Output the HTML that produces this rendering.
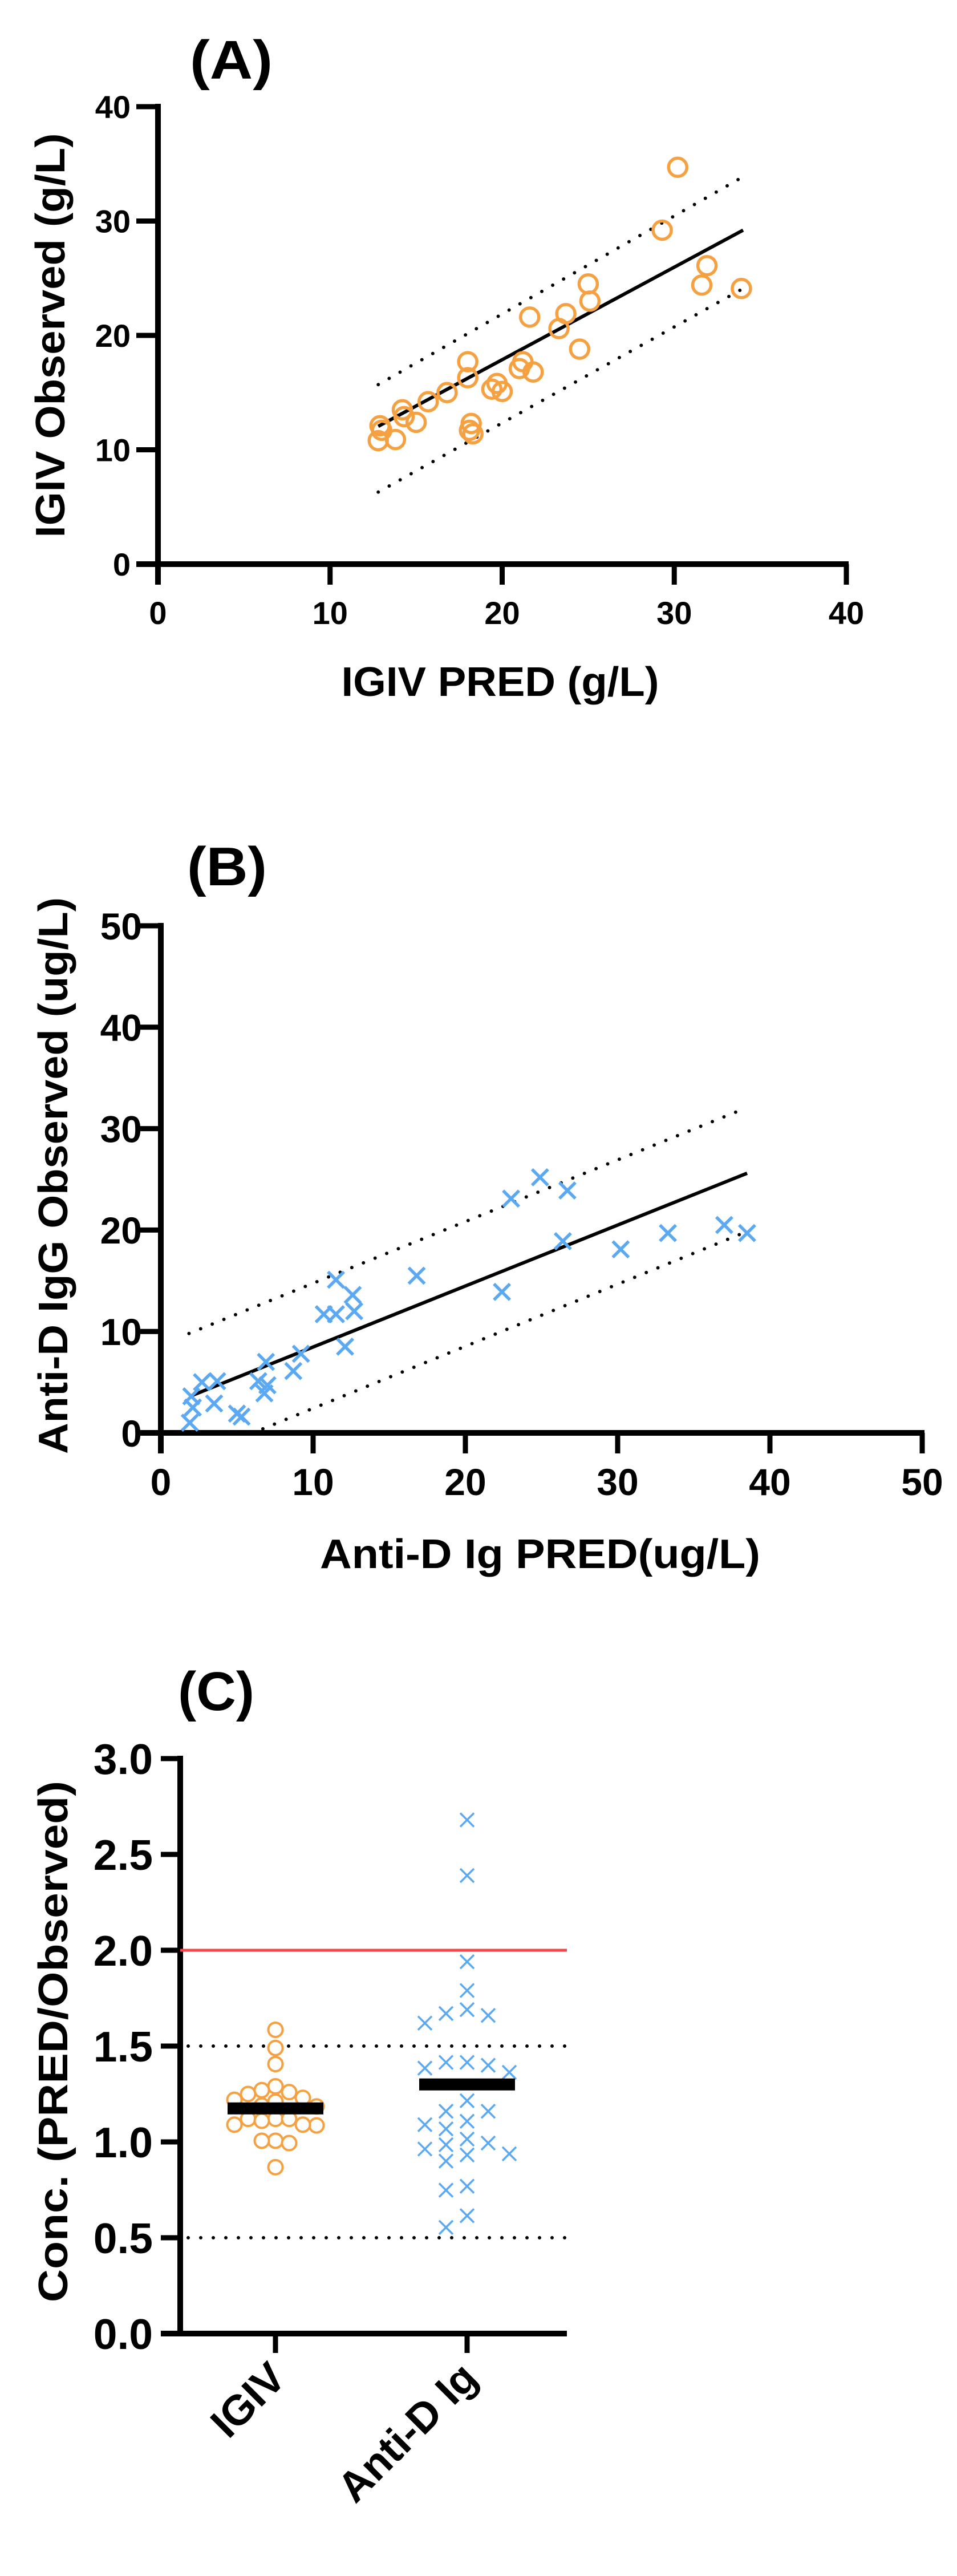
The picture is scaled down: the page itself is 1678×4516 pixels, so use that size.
<!DOCTYPE html>
<html><head><meta charset="utf-8"><style>
html,body{margin:0;padding:0;background:#fff;}
svg{display:block;font-family:"Liberation Sans",Arial,sans-serif;font-weight:bold;}
</style></head><body>
<svg id="fig" width="1678" height="4516" viewBox="0 0 1678 4516" xmlns="http://www.w3.org/2000/svg"></svg>
<script>
// ---- Panel A data ----
const aPredX = [30.2,29.3,31.9,31.6,33.9,25.0,25.1,23.7,23.3,24.5,21.6,21.8,21.2,21.0,18.0,18.0,19.4,19.7,20.0,16.8,15.7,15.0,14.2,14.3,13.8,12.9,12.8,13.0,18.2,18.3,18.1];
const aObsY  = [34.7,29.2,26.1,24.4,24.1,24.5,23.0,21.9,20.6,18.8,21.6,16.8,17.7,17.1,17.7,16.3,15.3,15.8,15.1,15.0,14.2,12.4,13.5,12.9,10.9,12.1,10.8,11.7,12.3,11.4,11.7];
const aFitX = [12.8,34.0], aFitY = [12.05,29.2];
const aUpX = [12.8,33.8], aUpY = [15.7,33.7];
const aLoX = [12.8,34.0], aLoY = [6.3,24.1];
const aTicks = [0,10,20,30,40];
// ---- Panel B data ----
const bPredX = [24.9,23.0,26.7,26.4,37.0,38.5,33.3,30.2,16.8,22.4,11.5,12.6,10.7,11.5,12.7,12.1,9.2,8.7,6.9,6.4,7.0,6.8,3.7,2.7,3.5,2.0,2.1,1.9,5.0,5.3];
const bObsY  = [25.2,23.1,23.9,18.9,20.5,19.7,19.7,18.1,15.5,13.9,15.1,13.6,11.7,11.7,12.0,8.5,7.8,6.1,7.0,5.1,4.7,3.9,5.1,5.0,2.9,3.6,2.5,1.0,1.9,1.6];
const bFitX = [1.9,38.5], bFitY = [3.6,25.6];
const bUpX = [1.85,38.2], bUpY = [9.8,31.9];
const bLoX = [6.7,38.4], bLoY = [0.4,19.8];
const bTicks = [0,10,20,30,40,50];
// ---- Panel C data ----
const cCategories = ["IGIV","Anti-D Ig"];
const cIgiv = [1.585,1.49,1.406,1.29,1.27,1.26,1.25,1.23,1.22,1.21,1.19,1.185,1.086,1.12,1.09,1.12,1.09,1.12,1.11,1.006,0.994,1.006,0.868];
const cAntiD = [2.68,2.39,1.94,1.79,1.69,1.67,1.66,1.62,1.40,1.415,1.415,1.363,1.385,1.215,1.16,1.16,1.09,1.108,1.068,1.015,0.985,0.994,0.938,0.963,0.932,0.90,0.748,0.769,0.615,0.554];
const cMedians = [1.175,1.30];
const cRefRed = [2.0];
const cRefDotted = [1.5,0.5];
const cTicks = [0,0.5,1.0,1.5,2.0,2.5,3.0];
const cTickLabels = ["0.0","0.5","1.0","1.5","2.0","2.5","3.0"];

const NS="http://www.w3.org/2000/svg";
const svg=document.getElementById('fig');
const ORANGE="#f6a141", BLUE="#5aa9f2";
function mk(tag,attrs,parent){const e=document.createElementNS(NS,tag);for(const k in attrs)e.setAttribute(k,attrs[k]);(parent||svg).appendChild(e);return e;}
function txt(s,attrs,parent){const e=mk('text',attrs,parent);e.textContent=s;return e;}

function scatterPanel(cfg){
  const g=mk('g',{});
  
  
  const sx=v=>cfg.x0+(v-0)*(cfg.x1-cfg.x0)/cfg.max;
  const sy=v=>cfg.y0-(v-0)*(cfg.y0-cfg.y1)/cfg.max;
  // title
  const t=txt(cfg.label,{x:cfg.lx,y:cfg.ly,'font-size':cfg.lsize,textLength:cfg.lw,lengthAdjust:'spacingAndGlyphs'},g);
  
  
  // axes
  const ax=mk('path',{d:`M${cfg.x0-38},${cfg.y0} H${cfg.x1+4} M${cfg.x0},${cfg.y1-5} V${cfg.y0+36}`,stroke:'#000','stroke-width':10,fill:'none'},g);
  
  
  cfg.ticks.forEach(v=>{
    const tk=mk('path',{d:`M${sx(v)},${cfg.y0} V${cfg.y0+36} M${cfg.x0-38},${sy(v)} H${cfg.x0}`,stroke:'#000','stroke-width':9},g);
    
    
    const xl=txt(String(v),{x:sx(v),y:cfg.xlBase,'font-size':cfg.tsize,'text-anchor':'middle'},g);
    
    
    const yl=txt(String(v),{x:cfg.ylRight,y:sy(v)+cfg.tsize*0.36,'font-size':cfg.tsize,'text-anchor':'end'},g);
    
    
  });
  const xt=txt(cfg.xTitle,{x:cfg.xtx,y:cfg.xty,'font-size':cfg.titleSize,'text-anchor':'middle',textLength:cfg.xtw,lengthAdjust:'spacingAndGlyphs'},g);
  
  
  const yt=txt(cfg.yTitle,{x:0,y:0,'font-size':cfg.titleSize,'text-anchor':'middle',textLength:cfg.ytw,lengthAdjust:'spacingAndGlyphs',transform:`translate(${cfg.ytx},${cfg.yty}) rotate(-90)`},g);
  
  
  // lines
  const fl=mk('line',{x1:sx(cfg.fitX[0]),y1:sy(cfg.fitY[0]),x2:sx(cfg.fitX[1]),y2:sy(cfg.fitY[1]),stroke:'#000','stroke-width':6},g);
  
  
  [[cfg.upX,cfg.upY,'upper-bound-line'],[cfg.loX,cfg.loY,'lower-bound-line']].forEach(([X,Y,n])=>{
    const l=mk('line',{x1:sx(X[0]),y1:sy(Y[0]),x2:sx(X[1]),y2:sy(Y[1]),stroke:'#000','stroke-width':6,'stroke-dasharray':'0 22','stroke-linecap':'round'},g);
    
    
  });
  // points
  cfg.px.forEach((v,i)=>{
    const cx=sx(v), cy=sy(cfg.py[i]);
    let p;
    if(cfg.marker==='circle'){
      p=mk('circle',{cx:cx,cy:cy,r:16,fill:'none',stroke:ORANGE,'stroke-width':5.5},g);
    } else {
      const s=14;
      p=mk('path',{d:`M${cx-s},${cy-s} L${cx+s},${cy+s} M${cx-s},${cy+s} L${cx+s},${cy-s}`,stroke:BLUE,'stroke-width':5.5,fill:'none'},g);
    }
    
    
  });
}

scatterPanel({name:'panel-a',label:'(A)',lx:333,ly:138,lsize:96,lw:145,
  x0:277,x1:1484,y0:989,y1:187,max:40,ticks:aTicks,tsize:56,xlBase:1094,ylRight:229,
  xTitle:'IGIV PRED (g/L)',xtx:877,xty:1220,xtw:557,yTitle:'IGIV Observed (g/L)',ytx:113,yty:588,ytw:709,titleSize:72,
  fitX:aFitX,fitY:aFitY,upX:aUpX,upY:aUpY,loX:aLoX,loY:aLoY,px:aPredX,py:aObsY,marker:'circle'});

scatterPanel({name:'panel-b',label:'(B)',lx:328,ly:1552,lsize:96,lw:140,
  x0:282,x1:1617,y0:2512,y1:1623,max:50,ticks:bTicks,tsize:66,xlBase:2621,ylRight:249,
  xTitle:'Anti-D  Ig PRED(ug/L)',xtx:947,xty:2749,xtw:772,yTitle:'Anti-D IgG Observed (ug/L)',ytx:118,yty:2061,ytw:976,titleSize:72,
  fitX:bFitX,fitY:bFitY,upX:bUpX,upY:bUpY,loX:bLoX,loY:bLoY,px:bPredX,py:bObsY,marker:'x'});

// ---- Panel C ----
(function(){
  const g=mk('g',{});
  
  
  const x0=316,x1=994,y0=4091,y1=3083;
  const sy=v=>y0-v*(y0-y1)/3;
  const catX=[483,819];
  const t=txt('(C)',{x:312,y:2998,'font-size':96,textLength:134,lengthAdjust:'spacingAndGlyphs'},g);
  
  
  const ax=mk('path',{d:`M${x0-34},${y0} H${x1} M${x0},${y1-5} V${y0}`,stroke:'#000','stroke-width':10,fill:'none'},g);
  
  
  cTicks.forEach((v,i)=>{
    const tk=mk('line',{x1:x0-34,y1:sy(v),x2:x0,y2:sy(v),stroke:'#000','stroke-width':9},g);
    
    
    const l=txt(cTickLabels[i],{x:268,y:sy(v)+27,'font-size':75,'text-anchor':'end'},g);
    
    
  });
  cCategories.forEach((c,i)=>{
    const tk=mk('line',{x1:catX[i],y1:y0,x2:catX[i],y2:y0+34,stroke:'#000','stroke-width':9},g);
    
    
    const l=txt(c,{x:0,y:0,'font-size':74,'text-anchor':'end',transform:`translate(${catX[i]+22},${y0+82}) rotate(-45)`},g);
    
    
  });
  const yt=txt('Conc. (PRED/Observed)',{x:0,y:0,'font-size':72,'text-anchor':'middle',textLength:914,lengthAdjust:'spacingAndGlyphs',transform:'translate(118,3579) rotate(-90)'},g);
  
  
  cRefRed.forEach(v=>{
    const l=mk('line',{x1:x0,y1:sy(v),x2:x1,y2:sy(v),stroke:'#f4474a','stroke-width':5},g);
    
    
  });
  cRefDotted.forEach(v=>{
    const l=mk('line',{x1:x0+14,y1:sy(v),x2:x1,y2:sy(v),stroke:'#000','stroke-width':6,'stroke-dasharray':'0 22','stroke-linecap':'round'},g);
    
    
  });
  // beeswarm placement
  function swarm(vals,cx,step,minDy){
    const placed=[];const order=vals.map((v,i)=>i).sort((a,b)=>vals[b]-vals[a]);
    const out=new Array(vals.length);
    order.forEach(i=>{
      const y=sy(vals[i]);
      const cands=[0,-1,1,-2,2,-3,3];
      for(const k of cands){
        const x=cx+k*step;
        if(!placed.some(p=>Math.abs(p[0]-x)<step*0.9&&Math.abs(p[1]-y)<minDy)){placed.push([x,y]);out[i]=[x,y];break;}
      }
      if(!out[i])out[i]=[cx,y];
    });
    return out;
  }
  swarm(cIgiv,catX[0],24,26).forEach(([x,y])=>{
    const c=mk('circle',{cx:x,cy:y,r:12.5,fill:'#fff',stroke:ORANGE,'stroke-width':4},g);
    
    
  });
  swarm(cAntiD,catX[1],37,26).forEach(([x,y])=>{
    const s=12;
    const p=mk('path',{d:`M${x-s},${y-s} L${x+s},${y+s} M${x-s},${y+s} L${x+s},${y-s}`,stroke:BLUE,'stroke-width':3.5,fill:'none'},g);
    
    
  });
  cMedians.forEach((m,i)=>{
    const b=mk('line',{x1:catX[i]-84,y1:sy(m),x2:catX[i]+84,y2:sy(m),stroke:'#000','stroke-width':21},g);
    
    
  });
})();
</script>
</body></html>
